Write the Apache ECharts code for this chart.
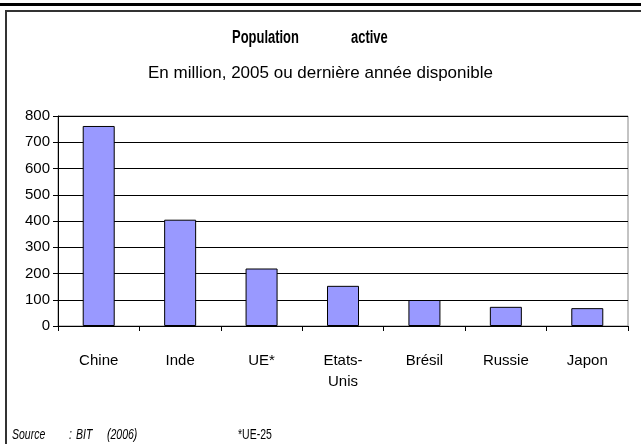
<!DOCTYPE html>
<html>
<head>
<meta charset="utf-8">
<script src="https://cdn.jsdelivr.net/npm/echarts@6/dist/echarts.min.js"></script>
<style>
  html, body { margin: 0; padding: 0; background: #fff; }
  #chart { width: 641px; height: 444px; }
</style>
</head>
<body>
<div id="chart"></div>
<script>
// données
const pays = ['Chine', 'Inde', 'UE*', 'Etats-\nUnis', 'Brésil', 'Russie', 'Japon']
const populationActive = [762, 405, 219, 153, 99, 73, 68]
const yTicks = [0, 100, 200, 300, 400, 500, 600, 700, 800]

const chart = echarts.init(document.getElementById('chart'))

// texte "étroit" : Liberation Sans compressée horizontalement
function narrowText(txt, x, y, font, sx) {
  return {
    type: 'text',
    x: x,
    y: y,
    scaleX: sx,
    style: { text: txt, font: font, fill: '#000', verticalAlign: 'middle', align: 'left' }
  }
}

const option = {
  backgroundColor: '#fff',
  animation: false,
  title: {
    text: '',
    subtext: 'En million, 2005 ou dernière année disponible',
    left: 'center',
    top: 50,
    subtextStyle: {
      fontFamily: 'Liberation Sans',
      fontSize: 17,
      color: '#000'
    }
  },
  grid: {
    left: 58,
    right: 13,
    top: 116,
    bottom: 118,
    show: true,
    borderColor: '#888',
    borderWidth: 1
  },
  xAxis: {
    type: 'category',
    data: pays,
    axisLine: { lineStyle: { color: '#000', width: 1 } },
    axisTick: { show: true, length: 5, lineStyle: { color: '#000' } },
    axisLabel: {
      margin: 24,
      fontFamily: 'Liberation Sans',
      fontSize: 15,
      color: '#000',
      lineHeight: 21,
      interval: 0
    }
  },
  yAxis: {
    type: 'value',
    min: yTicks[0],
    max: yTicks[yTicks.length - 1],
    interval: 100,
    axisLine: { show: true, lineStyle: { color: '#000', width: 1 } },
    axisTick: { show: true, length: 5, lineStyle: { color: '#000' } },
    axisLabel: {
      margin: 8,
      fontFamily: 'Liberation Sans',
      fontSize: 15,
      color: '#000'
    },
    splitLine: { show: true, lineStyle: { color: '#000', width: 1 } }
  },
  series: [
    {
      type: 'bar',
      data: populationActive,
      barWidth: 32,
      itemStyle: {
        color: '#9999ff',
        borderColor: '#000',
        borderWidth: 1
      }
    }
  ],
  graphic: [
    // trait épais en haut
    { type: 'rect', shape: { x: 0, y: 3, width: 641, height: 3 }, style: { fill: '#000' } },
    // cadre
    { type: 'line', shape: { x1: 5, y1: 11, x2: 641, y2: 11 }, style: { stroke: '#333', lineWidth: 2 } },
    { type: 'line', shape: { x1: 6, y1: 11, x2: 6, y2: 444 }, style: { stroke: '#333', lineWidth: 2 } },
    // titre
    narrowText('Population', 232, 38, 'bold 18px "Liberation Sans"', 0.72),
    narrowText('active', 351, 38, 'bold 18px "Liberation Sans"', 0.72),
    // source
    narrowText('Source', 12, 435, 'italic 15px "Liberation Sans"', 0.7),
    narrowText(':', 69, 435, 'italic 15px "Liberation Sans"', 0.7),
    narrowText('BIT', 76, 435, 'italic 15px "Liberation Sans"', 0.7),
    narrowText('(2006)', 107, 435, 'italic 15px "Liberation Sans"', 0.7),
    narrowText('*UE-25', 238, 435, '15px "Liberation Sans"', 0.7)
  ]
}

chart.setOption(option)
</script>
</body>
</html>
